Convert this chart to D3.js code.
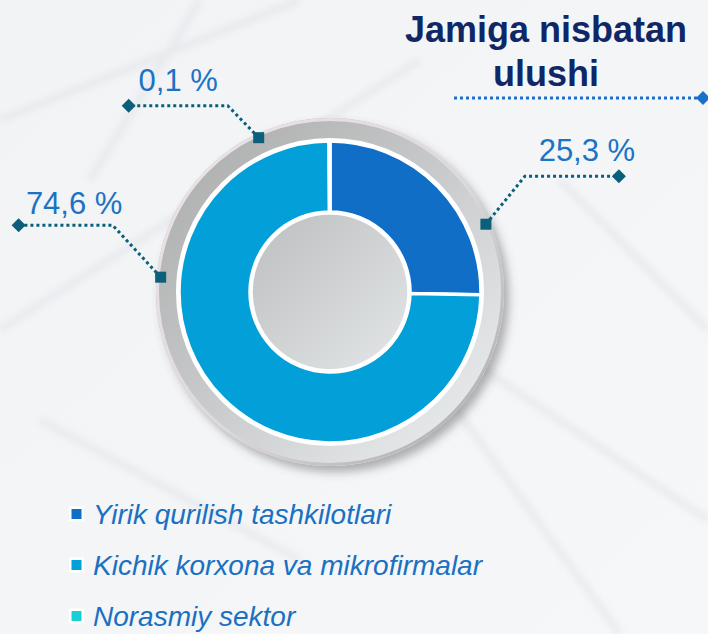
<!DOCTYPE html>
<html>
<head>
<meta charset="utf-8">
<script src="https://cdn.jsdelivr.net/npm/d3@7/dist/d3.min.js"></script>
<style>
  html, body { margin: 0; padding: 0; background: #f3f5f7; }
  svg { display: block; }
</style>
</head>
<body>
<script>
// ---- data ----
const categories = ["Yirik qurilish tashkilotlari", "Kichik korxona va mikrofirmalar", "Norasmiy sektor"];
const shares = [25.3, 74.6, 0.1];
const shareLabels = ["25,3 %", "74,6 %", "0,1 %"];
const colors = ["#116ec6", "#039fd8", "#17cfd6"];
const titleLines = ["Jamiga nisbatan", "ulushi"];

// ---- layout ----
const W = 708, H = 634;
const cx = 330, cy = 292;
const rRing = 174, rOuter = 151, rInner = 80;
// label anchor layout (angle on ring in degrees, elbow offset, horizontal run, text offset)
const labelLayout = [
  { angle: 66.5, ex: 39, ey: -48, run: 94, tdx: 15, tdy: -15 },
  { angle: 275, ex: -48, ey: -52, run: -94, tdx: 8.5, tdy: -11 },
  { angle: -24.8, ex: -31, ey: -32, run: -99, tdx: 0, tdy: -15 }
];

const svg = d3.select("body").append("svg").attr("width", W).attr("height", H);
const defs = svg.append("defs");

// background gradient + faint texture lines
const bg = defs.append("linearGradient").attr("id", "bg").attr("x1", 0).attr("y1", 0).attr("x2", 1).attr("y2", 1);
bg.append("stop").attr("offset", 0).attr("stop-color", "#f1f3f5");
bg.append("stop").attr("offset", 1).attr("stop-color", "#f6f7f9");
svg.append("rect").attr("width", W).attr("height", H).attr("fill", "url(#bg)");
const blur = defs.append("filter").attr("id", "blur");
blur.append("feGaussianBlur").attr("stdDeviation", 3);
const tex = svg.append("g").attr("stroke", "#e2e5e8").attr("fill", "none").attr("opacity", 0.6).attr("filter", "url(#blur)");
[[0, 120, 300, 0], [0, 330, 420, 60], [380, 300, 708, 520], [420, 360, 620, 634], [560, 180, 708, 330], [40, 420, 300, 560], [200, 0, 90, 180]].forEach(l => {
  tex.append("line").attr("x1", l[0]).attr("y1", l[1]).attr("x2", l[2]).attr("y2", l[3]).attr("stroke-width", 8);
});

// gradients for ring and hole
const ringG = defs.append("linearGradient").attr("id", "ringG").attr("x1", 0).attr("y1", 0).attr("x2", 1).attr("y2", 1);
ringG.append("stop").attr("offset", 0).attr("stop-color", "#a8a8a8");
ringG.append("stop").attr("offset", 0.5).attr("stop-color", "#c9cbcc");
ringG.append("stop").attr("offset", 1).attr("stop-color", "#f0f3f5");
const rimG = defs.append("linearGradient").attr("id", "rimG").attr("x1", 0).attr("y1", 0).attr("x2", 1).attr("y2", 1);
rimG.append("stop").attr("offset", 0).attr("stop-color", "#eee4ea");
rimG.append("stop").attr("offset", 0.55).attr("stop-color", "#ddd8db");
rimG.append("stop").attr("offset", 1).attr("stop-color", "#a6a6a6");
const holeG = defs.append("linearGradient").attr("id", "holeG").attr("x1", 0).attr("y1", 0).attr("x2", 1).attr("y2", 1);
holeG.append("stop").attr("offset", 0).attr("stop-color", "#bcbebf");
holeG.append("stop").attr("offset", 1).attr("stop-color", "#e4e7e9");
const sh = defs.append("filter").attr("id", "shadow").attr("x", "-20%").attr("y", "-20%").attr("width", "150%").attr("height", "150%");
sh.append("feDropShadow").attr("dx", 5).attr("dy", 6).attr("stdDeviation", 5).attr("flood-color", "#555").attr("flood-opacity", 0.45);

const g = svg.append("g").attr("transform", `translate(${cx},${cy})`);
g.append("circle").attr("r", rRing).attr("fill", "url(#ringG)").attr("filter", "url(#shadow)");
g.append("circle").attr("r", rRing - 1.5).attr("fill", "none").attr("stroke", "url(#rimG)").attr("stroke-width", 3);

const pie = d3.pie().sort(null).value(d => d)(shares);
const arc = d3.arc().innerRadius(rInner).outerRadius(rOuter);
g.selectAll("path.slice").data(pie).join("path").attr("class", "slice")
  .attr("d", arc).attr("fill", (d, i) => colors[i])
  .attr("stroke", "#ffffff").attr("stroke-width", 3.5).attr("stroke-linejoin", "miter");
g.append("circle").attr("r", rOuter + 1.5).attr("fill", "none").attr("stroke", "#fff").attr("stroke-width", 3);
g.append("circle").attr("r", rInner - 1).attr("fill", "url(#holeG)").attr("stroke", "#fff").attr("stroke-width", 3.5);

// leader lines + labels
const leaderColor = "#0b5f7a";
const labelColor = "#1a73c5";
shareLabels.forEach((lab, i) => {
  const L = labelLayout[i];
  const a = L.angle * Math.PI / 180;
  const r = rRing - 4;
  const sx = cx + r * Math.sin(a), sy = cy - r * Math.cos(a);
  const exx = sx + L.ex, eyy = sy + L.ey;
  const dx = exx + L.run;
  svg.append("path").attr("d", `M${sx},${sy}L${exx},${eyy}L${dx},${eyy}`)
    .attr("fill", "none").attr("stroke", leaderColor).attr("stroke-width", 3).attr("stroke-dasharray", "3 3");
  svg.append("rect").attr("x", sx - 5.5).attr("y", sy - 5.5).attr("width", 11).attr("height", 11).attr("fill", leaderColor);
  svg.append("path").attr("d", `M${dx - 7},${eyy}L${dx},${eyy - 7}L${dx + 7},${eyy}L${dx},${eyy + 7}Z`).attr("fill", leaderColor);
  svg.append("text").attr("x", (exx + dx) / 2 + L.tdx).attr("y", eyy + L.tdy)
    .attr("text-anchor", "middle").attr("font-family", "Liberation Sans, Arial, sans-serif")
    .attr("font-size", 31).attr("fill", labelColor).text(lab);
});

// title
const title = svg.append("text").attr("text-anchor", "middle").attr("font-family", "Liberation Sans, Arial, sans-serif")
  .attr("font-weight", "bold").attr("font-size", 36).attr("fill", "#0f2766");
titleLines.forEach((t, i) => title.append("tspan").attr("x", 546).attr("y", 42 + i * 44).text(t));
svg.append("line").attr("x1", 454).attr("y1", 98).attr("x2", 703).attr("y2", 98)
  .attr("stroke", "#1b6fca").attr("stroke-width", 3).attr("stroke-dasharray", "3 3");
svg.append("path").attr("d", "M696,98L703,91L710,98L703,105Z").attr("fill", "#1b6fca");

// legend
const leg = svg.append("g").attr("transform", "translate(69,0)");
categories.forEach((c, i) => {
  const y = 514 + i * 51;
  leg.append("rect").attr("x", 0).attr("y", y - 7.5).attr("width", 15).attr("height", 15).attr("fill", "#fff");
  leg.append("rect").attr("x", 2.5).attr("y", y - 5).attr("width", 10).attr("height", 10).attr("fill", colors[i]);
  leg.append("text").attr("x", 24).attr("y", y + 10).attr("font-family", "Liberation Sans, Arial, sans-serif")
    .attr("font-style", "italic").attr("font-size", 28).attr("fill", "#1a70c2").text(c);
});
</script>
</body>
</html>
